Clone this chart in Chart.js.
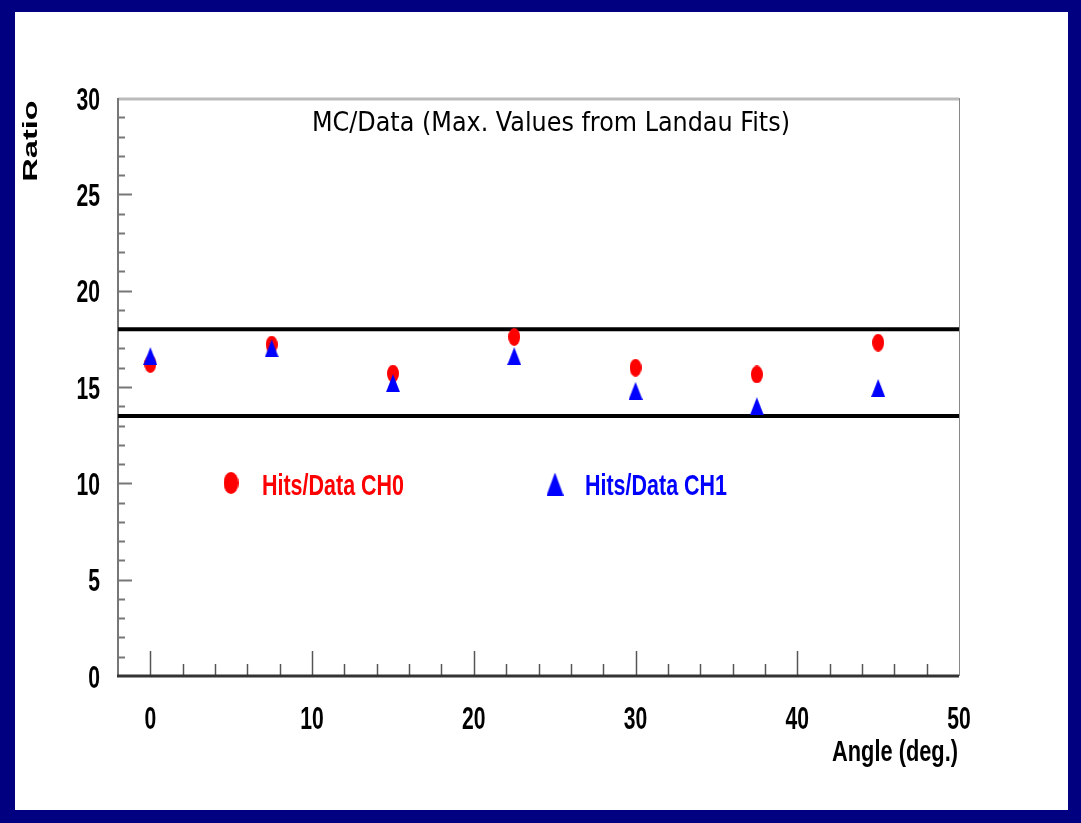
<!DOCTYPE html>
<html>
<head>
<meta charset="utf-8">
<title>MC/Data ratio vs angle</title>
<script src="https://cdn.jsdelivr.net/npm/chart.js@4/dist/chart.umd.min.js"></script>
<style>
  html, body { margin: 0; padding: 0; background: #000080; }
  .sheet { position: absolute; left: 15px; top: 12px; width: 1053px; height: 798px; background: #fff; }
  #chart { position: absolute; left: 0; top: 0; }
</style>
</head>
<body>
<div class="sheet"></div>
<canvas id="chart" width="1081" height="823"></canvas>
<script>
// angles in degrees and the two MC/Data ratios
const angles = [0, 7.5, 15, 22.5, 30, 37.5, 45];
const ratioCh0 = [16.2, 17.2, 15.7, 17.6, 16.0, 15.65, 17.3];
const ratioCh1 = [16.6, 17.0, 15.2, 16.6, 14.8, 14.0, 14.95];
const bandLimits = [18, 13.5];
const angleRange = [-2, 50];
const ratioRange = [0, 30];
const seriesLabels = ['Hits/Data CH0', 'Hits/Data CH1'];
const chartTitle = 'MC/Data (Max. Values from Landau Fits)';

const RED = '#ff0000';
const BLUE = '#0000ff';
const SANS = "'Liberation Sans', Arial, sans-serif";
const SQUEEZE = 0.66;

const ellipseMarker = (w, h, color) => {
  const c = document.createElement('canvas');
  c.width = w;
  c.height = h;
  const ctx = c.getContext('2d');
  ctx.fillStyle = color;
  ctx.beginPath();
  ctx.ellipse(w / 2, h / 2, w / 2, h / 2, 0, 0, Math.PI * 2);
  ctx.fill();
  return c;
};

const triangleMarker = (w, h, color) => {
  const c = document.createElement('canvas');
  c.width = w;
  c.height = h;
  const ctx = c.getContext('2d');
  ctx.fillStyle = color;
  ctx.beginPath();
  ctx.moveTo(w / 2, 0);
  ctx.lineTo(w, h);
  ctx.lineTo(0, h);
  ctx.closePath();
  ctx.fill();
  return c;
};

const dotMark = ellipseMarker(12, 18, RED);
const triMark = triangleMarker(14, 18, BLUE);
const dotLegend = ellipseMarker(15, 22, RED);
const triLegend = triangleMarker(17, 23, BLUE);

const toPoints = (xs, ys) => xs.map((x, i) => ({ x, y: ys[i] }));

const bandDatasets = bandLimits.map(limit => ({
  data: angleRange.map(x => ({ x, y: limit })),
  showLine: true,
  borderColor: '#000',
  borderWidth: 4,
  pointRadius: 0,
  order: 2
}));

// horizontally squeezed text, the way the old plotting fonts look
const narrowText = (ctx, text, x, y, squeeze = SQUEEZE) => {
  const w = ctx.measureText(text).width * squeeze;
  ctx.fillText(text, x, y, w);
};

// frame, inward tick marks, tick labels and all free text
const decorations = {
  id: 'decorations',
  beforeDatasetsDraw(chart) {
    const { ctx, chartArea: a, scales } = chart;
    const xs = scales.x;
    const ys = scales.y;
    ctx.save();

    ctx.strokeStyle = '#bbbbbb';
    ctx.lineWidth = 3;
    ctx.beginPath();
    ctx.moveTo(a.left, a.top + 1);
    ctx.lineTo(a.right, a.top + 1);
    ctx.stroke();

    ctx.strokeStyle = '#888';
    ctx.lineWidth = 1;
    ctx.beginPath();
    ctx.moveTo(a.right + 0.5, a.top);
    ctx.lineTo(a.right + 0.5, a.bottom);
    ctx.stroke();

    ctx.strokeStyle = '#777';
    ctx.lineWidth = 2;
    ctx.beginPath();
    ctx.moveTo(a.left, a.top);
    ctx.lineTo(a.left, a.bottom);
    ctx.stroke();

    for (let v = ratioRange[0] + 1; v < ratioRange[1]; v++) {
      const y = Math.round(ys.getPixelForValue(v)) + 0.5;
      ctx.beginPath();
      ctx.moveTo(a.left, y);
      ctx.lineTo(a.left + (v % 5 === 0 ? 14 : 7), y);
      ctx.stroke();
    }

    ctx.strokeStyle = '#555';
    ctx.lineWidth = 1.5;
    for (let v = 0; v < angleRange[1]; v += 2) {
      const x = Math.round(xs.getPixelForValue(v)) + 0.5;
      ctx.beginPath();
      ctx.moveTo(x, a.bottom);
      ctx.lineTo(x, a.bottom - (v % 10 === 0 ? 25 : 12));
      ctx.stroke();
    }

    ctx.strokeStyle = '#333';
    ctx.lineWidth = 3;
    ctx.beginPath();
    ctx.moveTo(a.left - 1, a.bottom);
    ctx.lineTo(a.right, a.bottom);
    ctx.stroke();

    ctx.restore();
  },
  afterDraw(chart) {
    const { ctx, chartArea: a, scales } = chart;
    ctx.save();
    ctx.fillStyle = '#000';

    // tick labels from the scales' own ticks
    ctx.font = `bold 32px ${SANS}`;
    ctx.textBaseline = 'middle';
    ctx.textAlign = 'right';
    scales.y.ticks.forEach((t, i) => {
      narrowText(ctx, t.label, a.left - 18, scales.y.getPixelForTick(i) + 3);
    });
    ctx.textAlign = 'center';
    scales.x.ticks.forEach((t, i) => {
      narrowText(ctx, t.label, scales.x.getPixelForTick(i), a.bottom + 44);
    });

    ctx.textBaseline = 'alphabetic';
    ctx.textAlign = 'center';
    ctx.font = "26px 'DejaVu Sans', sans-serif";
    ctx.fillText(chartTitle, 551, 131, 478);

    ctx.textAlign = 'right';
    ctx.font = `bold 30px ${SANS}`;
    ctx.fillText('Angle (deg.)', 958, 761, 126);

    ctx.save();
    ctx.translate(37, 141);
    ctx.rotate(-Math.PI / 2);
    ctx.scale(1.55, 1);
    ctx.textAlign = 'center';
    ctx.font = `bold 21px ${SANS}`;
    ctx.fillText('Ratio', 0, 0);
    ctx.restore();

    ctx.drawImage(dotLegend, 231 - dotLegend.width / 2, 483 - dotLegend.height / 2);
    ctx.drawImage(triLegend, 555 - triLegend.width / 2, 484 - triLegend.height / 2);

    ctx.textAlign = 'left';
    ctx.font = `bold 30px ${SANS}`;
    ctx.fillStyle = RED;
    ctx.fillText(seriesLabels[0], 262, 495, 142);
    ctx.fillStyle = BLUE;
    ctx.fillText(seriesLabels[1], 585, 495, 142);

    ctx.restore();
  }
};

new Chart(document.getElementById('chart'), {
  type: 'scatter',
  data: {
    datasets: [
      {
        label: seriesLabels[1],
        data: toPoints(angles, ratioCh1),
        pointStyle: triMark,
        pointRadius: 7,
        order: 0
      },
      {
        label: seriesLabels[0],
        data: toPoints(angles, ratioCh0),
        pointStyle: dotMark,
        pointRadius: 7,
        order: 1
      },
      ...bandDatasets
    ]
  },
  options: {
    responsive: false,
    animation: false,
    events: [],
    layout: { padding: { left: 0, top: 98, right: 122, bottom: 0 } },
    plugins: {
      legend: { display: false },
      title: { display: false },
      tooltip: { enabled: false }
    },
    scales: {
      x: {
        type: 'linear',
        min: angleRange[0],
        max: angleRange[1],
        grid: { display: false, drawTicks: false },
        border: { display: false },
        ticks: {
          display: false,
          stepSize: 10,
          includeBounds: false
        },
        afterFit: scale => {
          scale.height = 147;
        }
      },
      y: {
        min: ratioRange[0],
        max: ratioRange[1],
        grid: { display: false, drawTicks: false },
        border: { display: false },
        ticks: {
          display: false,
          stepSize: 5
        },
        afterFit: scale => {
          scale.width = 118;
        }
      }
    }
  },
  plugins: [decorations]
});
</script>
</body>
</html>
